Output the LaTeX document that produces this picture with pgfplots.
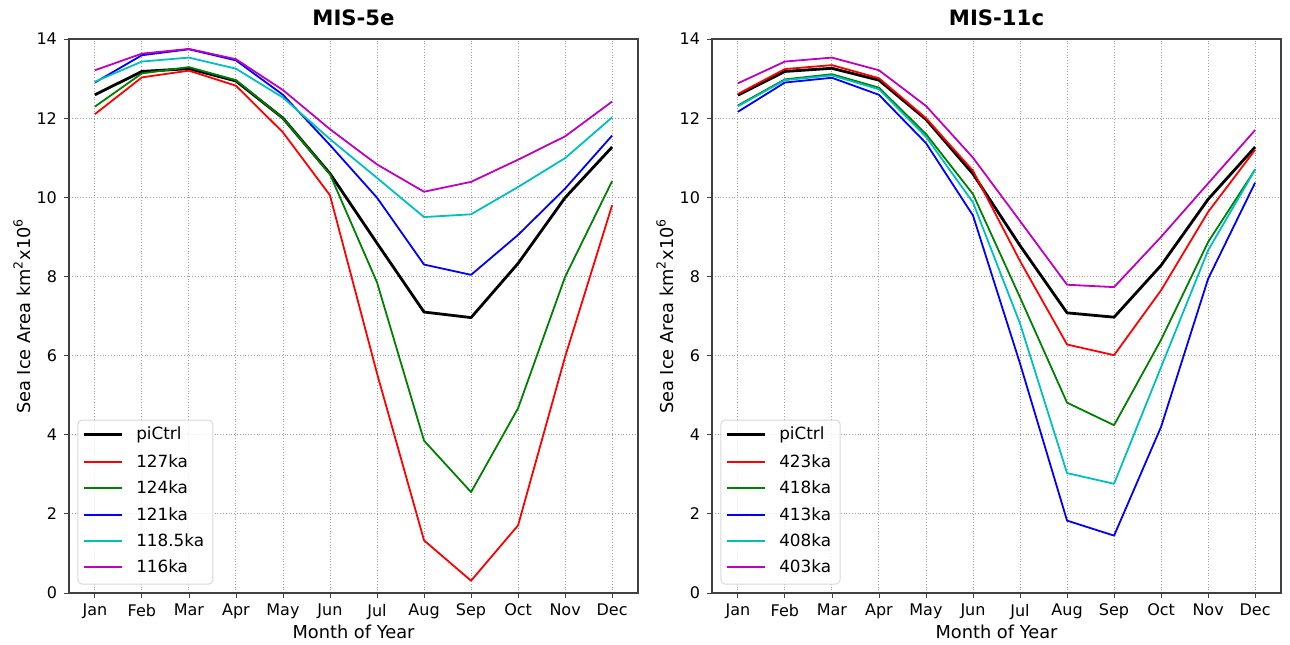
\documentclass[border=0pt]{standalone}
\usepackage{fontspec}
\setmainfont{DejaVu Sans}
\usepackage{pgfplots}
\usepackage{pgfplotstable}
\pgfplotsset{compat=1.18}
\definecolor{mplgreen}{rgb}{0,0.5,0}
\definecolor{mplcyan}{rgb}{0,0.75,0.75}
\definecolor{mplmag}{rgb}{0.75,0,0.75}
\definecolor{spine}{gray}{0.25}

\pgfplotstableread{
m  pi     ra    ga    ba    ca    ma
0  12.59  12.10 12.29 12.90 12.92 13.21
1  13.18  13.03 13.13 13.59 13.43 13.63
2  13.25  13.20 13.29 13.74 13.53 13.75
3  12.94  12.82 12.96 13.46 13.25 13.49
4  12.00  11.64 12.00 12.59 12.52 12.71
5  10.60  10.05 10.58 11.32 11.47 11.72
6  8.84   5.55  7.85  9.99  10.49 10.83
7  7.10   1.33  3.85  8.30  9.50  10.14
8  6.96   0.31  2.55  8.04  9.57  10.39
9  8.33   1.71  4.67  9.05  10.26 10.95
10 9.99   5.97  7.99  10.22 10.99 11.54
11 11.27  9.80  10.41 11.56 12.02 12.42
}\tabA

\pgfplotstableread{
m  pi     ra    ga    ba    ca    ma
0  12.58  12.61 12.32 12.16 12.30 12.88
1  13.18  13.24 12.98 12.90 12.96 13.43
2  13.26  13.34 13.11 13.02 13.08 13.53
3  12.96  13.01 12.77 12.59 12.73 13.21
4  11.97  12.00 11.60 11.37 11.53 12.31
5  10.59  10.67 10.08 9.54  9.87  11.00
6  8.78   8.39  7.47  5.80  6.81  9.40
7  7.08   6.28  4.81  1.83  3.03  7.79
8  6.97   6.01  4.24  1.45  2.76  7.73
9  8.28   7.65  6.40  4.20  5.71  9.00
10 9.95   9.63  8.87  7.94  8.66  10.35
11 11.27  11.20 10.70 10.37 10.70 11.70
}\tabB

\pgfplotsset{
  every axis title shift=0pt,
  mplstyle/.style={
    width=284.5pt, height=277pt, scale only axis,
    xmin=-0.55, xmax=11.55, ymin=0, ymax=14,
    xtick={0,...,11},
    xticklabels={Jan,Feb,Mar,Apr,May,Jun,Jul,Aug,Sep,Oct,Nov,Dec},
    ytick={0,2,...,14},
    xtick pos=bottom, ytick pos=left,
    tick align=outside, major tick length=2.5pt,
    tick style={spine, line width=0.4pt},
    axis line style={spine, line width=0.6pt},
    grid=major,
    grid style={densely dotted, gray!75, line width=0.45pt},
    /pgf/number format/assume math mode=true,
    tick label style={font=\fontsize{8}{9.6}\selectfont},
    xticklabel style={yshift=0.5pt},
    label style={font=\fontsize{8.9}{10.5}\selectfont},
    ylabel={Sea Ice Area km\textsuperscript{2}x10\textsuperscript{6}},
    xlabel={Month of Year},
    ylabel style={at={(axis description cs:-0.0826,0.5)}, anchor=center, rotate=0},
    xlabel style={at={(axis description cs:0.5,-0.0704)}, anchor=center},
    title style={at={(axis description cs:0.5,1.038)}, anchor=center, font=\fontsize{10.6}{12.5}\selectfont\bfseries},
    every axis plot/.append style={line width=0.9pt, line join=round},
  }
}
\newcommand{\legrow}[3]{%
  \draw[#1] (axis description cs:0.0262,#2) -- (axis description cs:0.0928,#2);
  \node[anchor=mid west, inner sep=0pt, font=\fontsize{8.4}{10}\selectfont] at (axis description cs:0.1175,#2) {#3};
}

\begin{document}
\begin{tikzpicture}[x=1pt,y=1pt]
\path[use as bounding box] (0,0) rectangle (645,322);
\begin{axis}[mplstyle, at={(34.5pt,25.5pt)}, anchor=south west, title={MIS-5e}]
\addplot[black, line width=1.4pt] table[x=m,y=pi] {\tabA};
\addplot[red] table[x=m,y=ra] {\tabA};
\addplot[color=mplgreen] table[x=m,y=ga] {\tabA};
\addplot[blue] table[x=m,y=ba] {\tabA};
\addplot[color=mplcyan] table[x=m,y=ca] {\tabA};
\addplot[color=mplmag] table[x=m,y=ma] {\tabA};
\draw[gray!30, fill=white, fill opacity=0.85, rounded corners=2pt, line width=0.5pt] (axis description cs:0.0158,0.0162) rectangle (axis description cs:0.253,0.312);
\legrow{black,line width=1.4pt}{0.2864}{piCtrl}
\legrow{red,line width=0.9pt}{0.2370}{127ka}
\legrow{mplgreen,line width=0.9pt}{0.1889}{124ka}
\legrow{blue,line width=0.9pt}{0.1408}{121ka}
\legrow{mplcyan,line width=0.9pt}{0.0939}{118.5ka}
\legrow{mplmag,line width=0.9pt}{0.0464}{116ka}
\end{axis}
\begin{axis}[mplstyle, at={(356pt,25.5pt)}, anchor=south west, title={MIS-11c}]
\addplot[black, line width=1.4pt] table[x=m,y=pi] {\tabB};
\addplot[red] table[x=m,y=ra] {\tabB};
\addplot[color=mplgreen] table[x=m,y=ga] {\tabB};
\addplot[blue] table[x=m,y=ba] {\tabB};
\addplot[color=mplcyan] table[x=m,y=ca] {\tabB};
\addplot[color=mplmag] table[x=m,y=ma] {\tabB};
\draw[gray!30, fill=white, fill opacity=0.85, rounded corners=2pt, line width=0.5pt] (axis description cs:0.0158,0.0162) rectangle (axis description cs:0.225,0.312);
\legrow{black,line width=1.4pt}{0.2864}{piCtrl}
\legrow{red,line width=0.9pt}{0.2370}{423ka}
\legrow{mplgreen,line width=0.9pt}{0.1889}{418ka}
\legrow{blue,line width=0.9pt}{0.1408}{413ka}
\legrow{mplcyan,line width=0.9pt}{0.0939}{408ka}
\legrow{mplmag,line width=0.9pt}{0.0464}{403ka}
\end{axis}
\end{tikzpicture}
\end{document}
